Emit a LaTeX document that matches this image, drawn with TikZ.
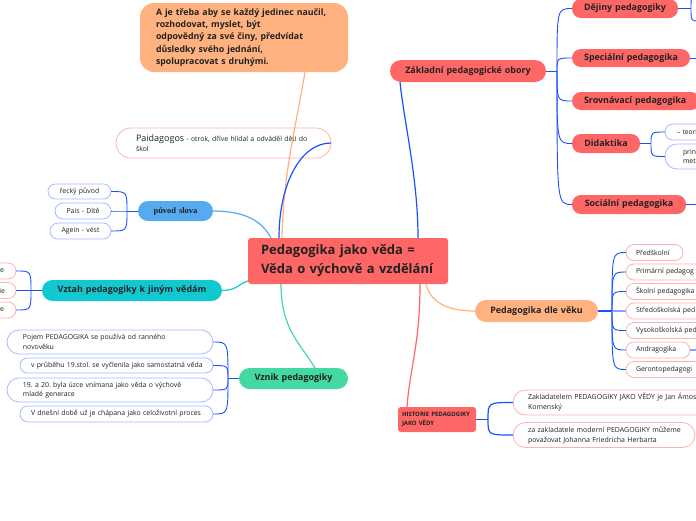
\documentclass[tikz,border=0pt]{standalone}
\usepackage{fontspec}
\setmainfont{Open Sans}
\newfontfamily\serifb{Liberation Serif}
\frenchspacing
\definecolor{cred}{HTML}{FF6666}
\definecolor{corange}{HTML}{FFB27F}
\definecolor{clblue}{HTML}{55AAF0}
\definecolor{cturq}{HTML}{11C8D0}
\definecolor{cmint}{HTML}{44D9A2}
\definecolor{cblue}{HTML}{1A50FF}
\definecolor{cpale}{HTML}{80A4FF}
\definecolor{cpink}{HTML}{FFB0B0}
\definecolor{cbord}{HTML}{A8B8FF}
\definecolor{ctext}{HTML}{222222}
\newcommand{\fsz}[2]{\fontsize{#1pt}{#2pt}\selectfont}
\begin{document}
\begin{tikzpicture}[x=1pt,y=-1pt,
  every node/.style={inner ysep=0pt, outer sep=0pt, text=ctext},
  topic/.style={font=\bfseries\fsz{8.9}{11}, align=center},
  leafb/.style={draw=cbord, line width=0.8pt, fill=white, font=\fsz{6.9}{10}},
  leafp/.style={draw=cpink, line width=0.8pt, fill=white, font=\fsz{6.9}{10}},
  sub/.style={draw=cblue, line width=0.9pt},
  mainc/.style={line width=1.2pt},
]
\useasboundingbox (0,0) rectangle (696,520);

% ---------- nodes ----------
\node[fill=cred, rounded corners=3pt, minimum height=46pt, text width=174pt, inner xsep=13pt, align=left, font=\bfseries\fsz{13}{19}] (central) at (348,261) {Pedagogika jako věda =\\Věda o výchově a vzdělání};

\node[fill=corange, rounded corners=14pt, minimum height=69pt, text width=176pt, inner xsep=16pt, align=left, font=\bfseries\fsz{8.8}{12.3}] (topbox) at (244,37.5) {A je třeba aby se každý jedinec naučil,\\rozhodovat, myslet, být\\odpovědný za své činy, předvídat\\důsledky svého jednání,\\spolupracovat s druhými.};

\node[leafp, rounded corners=15pt, minimum height=30pt, text width=175pt, inner xsep=20pt, align=left, font=\fsz{6.9}{10}] (paid) at (223.5,143) {\mbox{{\fsz{9}{10}Paidagogos} - otrok, dříve hlídal a odváděl děti do}\\škol};

\node[fill=clblue, rounded corners=10pt, minimum height=20pt, text width=65pt, inner xsep=5pt, align=center, font=\serifb\bfseries\fsz{8.5}{10}] (puvod) at (175.5,211) {původ slova};
\node[leafb, rounded corners=7.5pt, minimum height=15pt, text width=55pt, inner xsep=4pt, align=center] (recky) at (79.5,191.5) {řecký původ};
\node[leafb, rounded corners=8pt, minimum height=16pt, text width=48pt, inner xsep=4pt, align=center] (pais) at (83,211) {Pais - Dítě};
\node[leafb, rounded corners=8pt, minimum height=16pt, text width=53pt, inner xsep=4pt, align=center] (agein) at (80.5,231) {Agein - vést};

\node[fill=cturq, rounded corners=10.5pt, minimum height=21pt, text width=170pt, inner xsep=5pt, topic] (vztah) at (132,290.5) {Vztah pedagogiky k jiným vědám};
\node[leafp, rounded corners=8pt, minimum height=16pt, text width=52pt, inner xsep=12pt, align=right] (vl1) at (-22,271) {e};
\node[leafp, rounded corners=8pt, minimum height=16pt, text width=54pt, inner xsep=11pt, align=right] (vl2) at (-22,290.5) {ie};
\node[leafp, rounded corners=8pt, minimum height=16pt, text width=52pt, inner xsep=12pt, align=right] (vl3) at (-22,310) {e};

\node[fill=cmint, rounded corners=10.5pt, minimum height=21pt, text width=99pt, inner xsep=5pt, topic] (vznik) at (293.5,378.5) {Vznik pedagogiky};
\node[leafb, rounded corners=12pt, minimum height=24pt, text width=174pt, inner xsep=16pt, align=left, font=\fsz{6.9}{9.5}] (vz1) at (110,342) {Pojem PEDAGOGIKA se používá od ranného\\novověku};
\node[leafb, rounded corners=7.5pt, minimum height=15pt, text width=171pt, inner xsep=11pt, align=left] (vz2) at (116.5,365.5) {\mbox{v průběhu 19.stol. se vyčlenila jako samostatná věda}};
\node[leafb, rounded corners=12pt, minimum height=24pt, text width=174pt, inner xsep=16pt, align=left, font=\fsz{6.9}{9.5}] (vz3) at (110,390) {19. a 20. byla úzce vnímana jako věda o výchově\\mladé generace};
\node[leafb, rounded corners=8pt, minimum height=16pt, text width=171pt, inner xsep=11pt, align=left] (vz4) at (116.5,414) {\mbox{V dnešní době už je chápana jako celoživotní proces}};

\node[fill=cred, rounded corners=11pt, minimum height=22pt, text width=146pt, inner xsep=5pt, topic] (zakl) at (468,71) {Základní pedagogické obory};
\node[fill=cred, rounded corners=9pt, minimum height=19pt, text width=96pt, inner xsep=5pt, topic] (dejiny) at (625,8.5) {Dějiny pedagogiky};
\node[fill=cred, rounded corners=9pt, minimum height=18pt, text width=108pt, inner xsep=5pt, topic] (special) at (631,58) {Speciální pedagogika};
\node[fill=cred, rounded corners=9pt, minimum height=18pt, text width=104pt, inner xsep=12pt, topic, align=left] (srovn) at (636,101) {\mbox{Srovnávací pedagogika}};
\node[fill=cred, rounded corners=9pt, minimum height=19pt, text width=58pt, inner xsep=5pt, topic] (didak) at (606,143.5) {Didaktika};
\node[fill=cred, rounded corners=9pt, minimum height=19pt, text width=104pt, inner xsep=5pt, topic] (social) at (629,204.5) {Sociální pedagogika};
\node[leafb, rounded corners=8pt, minimum height=16pt, text width=26pt, inner xsep=12pt, align=left, font=\fsz{6.7}{10}] (teori) at (690,132) {\mbox{– teori}};
\node[leafb, rounded corners=12pt, minimum height=25pt, text width=14pt, inner xsep=18pt, align=left, font=\fsz{6.9}{9}] (prin) at (690,156.5) {prin\\met};

\node[fill=corange, rounded corners=11pt, minimum height=22pt, text width=113pt, inner xsep=5pt, topic] (pdv) at (536.5,311) {Pedagogika dle věku};
\node[leafp, rounded corners=8pt, minimum height=16pt, text width=37pt, inner xsep=10pt, align=left] (predsk) at (654.5,252.5) {Předškolní};
\node[leafp, rounded corners=8pt, minimum height=16pt, text width=70pt, inner xsep=10pt, align=left] (prim) at (671,272) {\mbox{Primární pedagog}};
\node[leafp, rounded corners=8pt, minimum height=16pt, text width=70pt, inner xsep=10pt, align=left] (skol) at (671,291.5) {\mbox{Školní pedagogika}};
\node[leafp, rounded corners=8pt, minimum height=16pt, text width=70pt, inner xsep=10pt, align=left] (stred) at (671,311) {\mbox{Středoškolská ped}};
\node[leafp, rounded corners=8pt, minimum height=16pt, text width=70pt, inner xsep=10pt, align=left] (vysok) at (671,330.5) {\mbox{Vysokoškolská ped}};
\node[leafp, rounded corners=8pt, minimum height=16pt, text width=44pt, inner xsep=10pt, align=left] (andr) at (658,350) {Andragogika};
\node[leafp, rounded corners=8pt, minimum height=16pt, text width=70pt, inner xsep=10pt, align=left] (geron) at (671,369.5) {\mbox{Gerontopedagogi}};

\node[fill=cred, rounded corners=3pt, minimum height=25pt, text width=70pt, inner xsep=4pt, align=left, font=\bfseries\fsz{6}{9}] (hist) at (437,419.5) {\mbox{HISTORIE PEDAGOGIKY}\\JAKO VĚDY};
\node[leafp, rounded corners=12.5pt, minimum height=25pt, text width=200pt, inner xsep=15pt, align=left, font=\fsz{7}{10}] (zak1) at (628,402.5) {Zakladatelem PEDAGOGIKY JAKO VĚDY je Jan Ámos\\Komenský};
\node[leafp, rounded corners=12.5pt, minimum height=25pt, text width=152pt, inner xsep=15pt, align=left, font=\fsz{7}{10}] (zak2) at (604,435) {\mbox{za zakladatele moderní PEDAGOGIKY můžeme}\\považovat Johanna Friedricha Herbarta};

% ---------- main connectors ----------
\draw[mainc, draw=corange] ([xshift=34pt]central.north west) .. controls +(2,-70) and +(-10,60) .. ([xshift=165pt]topbox.south west);
\draw[mainc, draw=cblue] ([xshift=31pt]central.north west) .. controls +(0,-55) and +(-30,0) .. (paid.east);
\draw[mainc, draw=clblue] (puvod.east) .. controls +(35,0) and +(-8,-15) .. ([xshift=23pt]central.north west);
\draw[mainc, draw=cturq] (vztah.east) .. controls +(15,0) and +(-10,3) .. ([yshift=3pt]central.south west);
\draw[mainc, draw=cmint] ([xshift=33pt]central.south west) .. controls +(0,45) and +(-15,-25) .. ([xshift=76pt]vznik.north west);
\draw[mainc, draw=cblue] ([xshift=170pt]central.north west) .. controls +(0,-60) and +(4,40) .. ([xshift=10pt]zakl.south west);
\draw[mainc, draw=corange] ([xshift=178pt]central.south west) .. controls +(5,20) and +(-25,0) .. (pdv.west);
\draw[mainc, draw=cred] ([xshift=172pt]central.south west) .. controls +(0,60) and +(3,-40) .. ([xshift=9pt]hist.north west);

% ---------- sub connectors ----------
\coordinate (bpuv) at (127,211);
\draw[sub] (puvod.west) -- (bpuv);
\foreach \c in {recky,pais,agein} \draw[sub] (bpuv) .. controls (bpuv|-\c.east) .. (\c.east);

\coordinate (bvz) at (31,290.5);
\draw[sub] (vztah.west) -- (bvz);
\foreach \c in {vl1,vl2,vl3} \draw[sub] (bvz) .. controls (bvz|-\c.east) .. (\c.east);

\coordinate (bvn) at (228,378.5);
\draw[sub] (vznik.west) -- (bvn);
\foreach \c in {vz1,vz2,vz3,vz4} \draw[sub] (bvn) .. controls (bvn|-\c.east) .. (\c.east);

\coordinate (bzk) at (557,71);
\draw[sub] (zakl.east) -- (bzk);
\foreach \c in {dejiny,special,srovn,didak,social} \draw[sub] (bzk) .. controls (bzk|-\c.west) .. (\c.west);

\coordinate (bdj) at (691,8.5);
\coordinate (dj1) at (700,-4);
\coordinate (dj2) at (700,21);
\draw[sub] (dejiny.east) -- (bdj);
\draw[sub] (bdj) .. controls (bdj|-dj1) .. (dj1);
\draw[sub] (bdj) .. controls (bdj|-dj2) .. (dj2);
\coordinate (sp1) at (700,58);
\draw[sub] (special.east) -- (sp1);
\coordinate (so1) at (700,204.5);
\draw[sub] (social.east) -- (so1);

\coordinate (bdi) at (651,143.5);
\draw[sub] (didak.east) -- (bdi);
\foreach \c in {teori,prin} \draw[sub] (bdi) .. controls (bdi|-\c.west) .. (\c.west);

\coordinate (bpd) at (612,311);
\draw[sub, line width=2pt] (pdv.east) -- (bpd);
\foreach \c in {predsk,prim,skol,vysok,andr,geron} \draw[sub] (bpd) .. controls (bpd|-\c.west) .. (\c.west);
\draw[draw=cpale, line width=1.8pt] (bpd) -- (stred.west);
\coordinate (an1) at (700,350);
\draw[draw=cpale, line width=1.2pt] (andr.east) -- (an1);

\coordinate (bhi) at (488,419.5);
\draw[sub, line width=1.2pt] (hist.east) -- (bhi);
\foreach \c in {zak1,zak2} \draw[sub, line width=1.2pt] (bhi) .. controls (bhi|-\c.west) .. (\c.west);
\end{tikzpicture}
\end{document}
